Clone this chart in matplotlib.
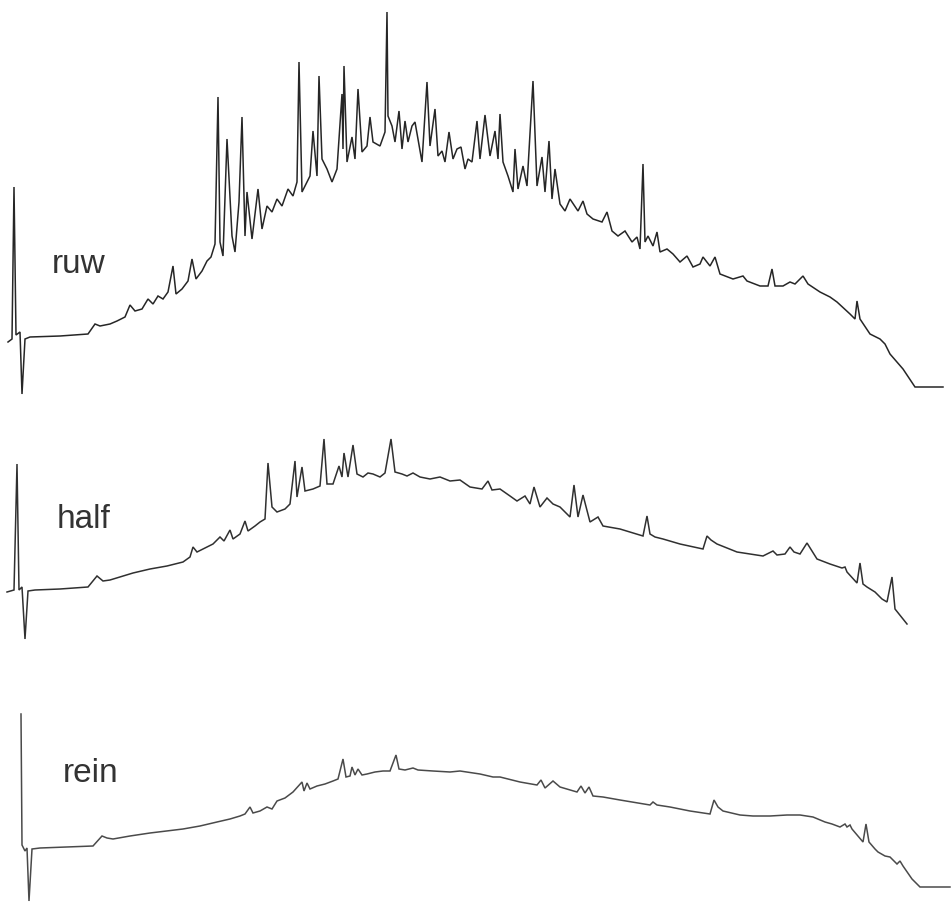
import matplotlib
matplotlib.use("Agg")
import matplotlib.pyplot as plt
import numpy as np

# Three gas chromatograms: ruw (raw), half, rein (clean)
# retention position and detector response (arbitrary units, 0 = flat start)

ruw_t = [8, 12, 14, 16, 20, 22, 25, 30, 60, 88, 95, 100, 110, 117, 125, 130, 135, 142, 148, 153,
         158, 163, 168, 173, 176, 182, 188, 192, 196, 202, 207, 211, 215, 218, 220, 223, 227, 232, 235, 239,
         242, 245, 247, 252, 258, 262, 267, 272, 277, 282, 288, 293, 297, 299, 302, 307, 310, 313, 317, 319,
         322, 327, 332, 337, 342, 343, 344, 347, 352, 355, 358, 362, 367, 370, 373, 380, 385, 387, 388, 392,
         395, 399, 402, 405, 408, 412, 415, 418, 422, 427, 430, 435, 438, 442, 445, 449, 453, 457, 461, 465,
         468, 472, 477, 480, 485, 490, 495, 498, 500, 503, 508, 513, 515, 518, 523, 527, 533, 537, 542, 545,
         549, 552, 555, 560, 565, 570, 578, 583, 587, 593, 602, 607, 612, 618, 625, 632, 637, 640, 643, 645,
         648, 653, 657, 660, 667, 673, 680, 687, 693, 700, 703, 710, 715, 720, 733, 743, 747, 760, 768, 772,
         775, 783, 790, 795, 803, 808, 820, 830, 837, 850, 855, 857, 860, 870, 880, 885, 890, 903, 915, 943]
ruw_v = [-5, -2, 150, 2, 5, -57, -2, 0, 1, 3, 13, 11, 13, 16, 20, 32, 26, 28, 38, 33,
         41, 38, 45, 71, 43, 48, 56, 78, 58, 66, 76, 80, 93, 240, 95, 81, 198, 101, 85, 135,
         220, 101, 145, 98, 148, 108, 131, 125, 138, 131, 148, 141, 155, 275, 145, 155, 161, 206, 161, 261,
         178, 168, 155, 168, 243, 188, 271, 175, 200, 178, 248, 185, 191, 220, 195, 191, 205, 325, 221, 211,
         195, 226, 188, 216, 195, 211, 215, 198, 175, 255, 191, 228, 181, 186, 175, 205, 178, 188, 190, 168,
         178, 175, 216, 178, 222, 181, 206, 178, 223, 175, 161, 145, 188, 148, 171, 151, 256, 151, 180, 145,
         196, 138, 168, 133, 126, 138, 126, 136, 123, 118, 115, 125, 106, 101, 106, 95, 100, 88, 173, 95,
         101, 91, 105, 85, 88, 83, 75, 81, 70, 73, 80, 71, 80, 63, 58, 61, 56, 51, 51, 68,
         51, 51, 55, 53, 61, 53, 45, 40, 35, 23, 18, 36, 18, 3, -2, -7, -17, -32, -50, -50]

half_t = [7, 14, 17, 19, 22, 25, 28, 35, 60, 88, 97, 103, 110, 133, 150, 167, 183, 190, 193, 197,
          205, 213, 220, 224, 230, 233, 240, 245, 248, 255, 260, 265, 268, 272, 277, 285, 290, 295, 297, 302,
          305, 313, 320, 324, 327, 333, 339, 342, 344, 348, 353, 357, 363, 368, 373, 380, 385, 391, 395, 402,
          407, 413, 420, 430, 440, 450, 460, 470, 482, 488, 492, 500, 510, 517, 525, 530, 534, 540, 547, 553,
          560, 570, 574, 578, 583, 590, 598, 603, 620, 643, 647, 650, 655, 663, 680, 703, 707, 711, 717, 737,
          763, 773, 777, 785, 790, 794, 800, 807, 812, 817, 830, 842, 845, 847, 857, 860, 863, 867, 875, 882,
          887, 892, 895, 907]
half_v = [-2, 0, 126, 0, 3, -49, -1, 0, 1, 3, 14, 9, 10, 17, 21, 24, 28, 33, 43, 38,
          42, 46, 53, 49, 60, 51, 56, 69, 59, 64, 68, 71, 127, 83, 78, 81, 86, 129, 93, 123,
          99, 101, 104, 151, 106, 106, 124, 113, 137, 113, 145, 116, 113, 117, 116, 113, 117, 151, 118, 116,
          114, 117, 113, 111, 113, 109, 110, 103, 101, 109, 100, 101, 94, 89, 94, 86, 103, 83, 92, 86,
          83, 73, 105, 73, 95, 68, 73, 64, 61, 54, 74, 56, 53, 51, 46, 41, 54, 50, 46, 38,
          34, 39, 35, 36, 43, 38, 36, 47, 39, 31, 26, 22, 23, 18, 7, 27, 6, 3, -2, -9,
          -12, 13, -19, -34]

rein_t = [21, 22, 25, 27, 29, 32, 40, 93, 102, 107, 113, 130, 150, 183, 200, 217, 230, 240, 245, 250,
          253, 260, 267, 272, 277, 285, 293, 302, 304, 307, 310, 317, 325, 333, 338, 343, 346, 350, 352, 355,
          358, 362, 367, 375, 383, 390, 396, 399, 405, 413, 418, 433, 450, 460, 480, 493, 500, 520, 537, 541,
          545, 553, 560, 577, 581, 585, 589, 593, 603, 620, 650, 653, 657, 670, 690, 710, 714, 718, 723, 740,
          753, 770, 787, 800, 813, 825, 832, 840, 845, 847, 850, 852, 863, 866, 869, 875, 878, 885, 890, 897,
          900, 903, 912, 920, 950]
rein_v = [134, 3, -3, 0, -53, -1, 0, 2, 12, 10, 9, 12, 15, 19, 22, 26, 29, 32, 34, 41,
          35, 37, 41, 39, 47, 50, 56, 66, 57, 65, 59, 62, 64, 67, 69, 89, 71, 72, 81, 73,
          79, 73, 74, 76, 77, 77, 93, 79, 78, 80, 78, 77, 76, 77, 74, 71, 71, 66, 63, 68,
          60, 67, 61, 56, 62, 55, 61, 52, 51, 48, 43, 46, 43, 41, 37, 34, 48, 41, 37, 33,
          32, 32, 33, 33, 31, 26, 24, 21, 24, 21, 23, 19, 6, 24, 6, -1, -4, -8, -9, -16,
          -13, -18, -31, -39, -39]

labels = ["ruw", "half", "rein"]
series_t = [ruw_t, half_t, rein_t]
series_v = [ruw_v, half_v, rein_v]

# layout: vertical position of each trace's zero line and label anchor
offsets = [338, 591, 849]
label_pos = [(52, 273), (57, 528), (63, 782)]
colors = ["#262626", "#303030", "#4a4a4a"]

fig = plt.figure(figsize=(9.53, 9.12), dpi=100)
ax = fig.add_axes([0, 0, 1, 1])

for t, v, off, col in zip(series_t, series_v, offsets, colors):
    ax.plot(t, np.array(v) - off, color=col, lw=1.1, solid_joinstyle="miter")

for name, (lx, ly) in zip(labels, label_pos):
    ax.text(lx, -ly, name, fontsize=24, family="Liberation Sans", color="#333333",
            ha="left", va="baseline")

ax.set_xlim(0, 953)
ax.set_ylim(-912, 0)
ax.axis("off")

fig.savefig("out.png", dpi=100, facecolor="white")
